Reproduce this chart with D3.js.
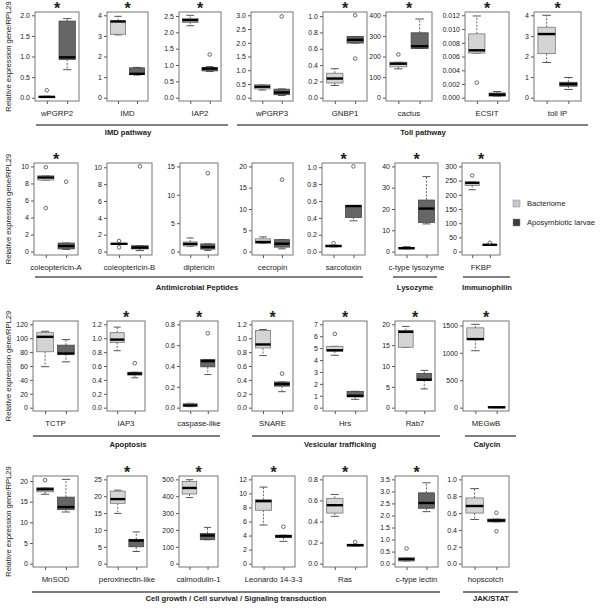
<!DOCTYPE html>
<html>
<head>
<meta charset="utf-8">
<script src="https://cdn.jsdelivr.net/npm/d3@7"></script>
<style>
  body { margin: 0; background: #fff; }
  svg { font-family: "Liberation Sans", Arial, sans-serif; }
</style>
</head>
<body>
<div id="chart"></div>
<script>
// genes, one panel each
const genes = ["wPGRP2", "IMD", "IAP2", "wPGRP3", "GNBP1", "cactus", "ECSIT", "toll IP",
  "coleoptericin-A", "coleoptericin-B", "diptericin", "cecropin", "sarcotoxin", "c-type lysozyme", "FKBP",
  "TCTP", "IAP3", "caspase-like", "SNARE", "Hrs", "Rab7", "MEGwB",
  "MnSOD", "peroxinectin-like", "calmodulin-1", "Leonardo 14-3-3", "Ras", "c-type lectin", "hopscotch"];
const geneRow = [0, 0, 0, 0, 0, 0, 0, 0, 1, 1, 1, 1, 1, 1, 1, 2, 2, 2, 2, 2, 2, 2, 3, 3, 3, 3, 3, 3, 3];
const starred = [1, 1, 1, 0, 1, 1, 1, 1, 1, 0, 0, 0, 1, 1, 1, 0, 1, 1, 1, 1, 1, 1, 0, 1, 1, 1, 1, 1, 0];

const yTicks = [
  [0, 0.5, 1, 1.5, 2], [0, 1, 2, 3, 4], [0, 0.5, 1, 1.5, 2, 2.5], [0, 0.5, 1, 1.5, 2, 2.5, 3],
  [0, 0.2, 0.4, 0.6, 0.8, 1], [0, 100, 200, 300, 400], [0, 0.002, 0.004, 0.006, 0.008, 0.01, 0.012], [0, 1, 2, 3, 4],
  [0, 2, 4, 6, 8, 10], [0, 2, 4, 6, 8, 10], [0, 5, 10, 15], [0, 5, 10, 15, 20],
  [0, 0.2, 0.4, 0.6, 0.8, 1], [0, 10, 20, 30, 40], [0, 50, 100, 150, 200, 250, 300],
  [0, 20, 40, 60, 80, 100, 120], [0, 0.2, 0.4, 0.6, 0.8, 1, 1.2], [0, 0.2, 0.4, 0.6, 0.8], [0, 0.2, 0.4, 0.6, 0.8, 1, 1.2],
  [0, 1, 2, 3, 4, 5, 6, 7], [0, 5, 10, 15, 20], [0, 500, 1000, 1500],
  [0, 5, 10, 15, 20], [0, 5, 10, 15, 20, 25], [0, 100, 200, 300, 400, 500], [0, 2, 4, 6, 8, 10, 12],
  [0, 0.2, 0.4, 0.6, 0.8], [0, 0.5, 1, 1.5, 2, 2.5, 3, 3.5], [0, 0.2, 0.4, 0.6, 0.8, 1]
];
const tickFmt = [".1f", "d", ".1f", ".1f", ".1f", "d", ".3f", "d",
  "d", "d", "d", "d", ".1f", "d", "d",
  "d", ".1f", ".1f", ".1f", "d", "d", "d",
  "d", "d", "d", "d", ".1f", ".1f", ".1f"];

// [low whisker, q1, median, q3, high whisker]
const bacteriome = [
  [0.005, 0.01, 0.02, 0.03, 0.035], [3.05, 3.08, 3.7, 3.73, 3.95], [2.2, 2.3, 2.37, 2.42, 2.52], [0.28, 0.32, 0.4, 0.47, 0.47],
  [0.15, 0.18, 0.235, 0.3, 0.355], [140, 150, 165, 172, 172], [0.0065, 0.0065, 0.0069, 0.0093, 0.0119], [1.71, 2.14, 3.09, 3.42, 4.0],
  [8.4, 8.4, 8.7, 8.9, 8.9], [0.88, 0.88, 0.92, 0.95, 0.95], [0.95, 1.0, 1.35, 1.7, 2.4], [1.95, 2.0, 2.25, 3.0, 3.45],
  [0.056, 0.056, 0.067, 0.071, 0.075], [1.3, 1.3, 1.6, 1.9, 2.3], [218, 233, 242, 245, 245],
  [59, 80.5, 102, 108, 110], [0.82, 0.94, 0.98, 1.08, 1.16], [0.01, 0.013, 0.022, 0.039, 0.042], [0.75, 0.86, 0.91, 1.11, 1.125],
  [4.4, 4.76, 4.82, 5.15, 5.15], [14.5, 14.5, 18.2, 18.5, 19.5], [1038, 1244, 1250, 1455, 1519],
  [16.8, 17.4, 18.0, 18.4, 18.4], [14.9, 17.9, 19.15, 21.5, 21.8], [392, 413, 449, 488, 498], [5.5, 7.6, 8.9, 9.1, 10.9],
  [0.449, 0.48, 0.555, 0.62, 0.657], [0.11, 0.11, 0.18, 0.25, 0.25], [0.524, 0.6, 0.684, 0.78, 0.89]
];
const bacteriomeOut = [
  [0.18], [], [], [], [], [210], [0.0022], [],
  [9.9, 5.1], [1.25, 0.5], [], [], [0.1], [], [268],
  [], [], [], [], [6.2], [], [],
  [20.2], [], [], [], [], [0.63], []
];
const aposymbiotic = [
  [0.68, 0.93, 0.98, 1.86, 1.92], [1.1, 1.12, 1.16, 1.45, 1.47], [0.8, 0.82, 0.89, 0.92, 0.95], [0.08, 0.11, 0.19, 0.31, 0.32],
  [0.67, 0.67, 0.71, 0.75, 0.75], [239, 239, 250, 315, 382], [0.00024, 0.00024, 0.00044, 0.00068, 0.0009], [0.4, 0.56, 0.66, 0.75, 0.98],
  [0.25, 0.32, 0.65, 1.0, 1.0], [0.12, 0.32, 0.48, 0.69, 0.69], [0.2, 0.43, 0.8, 1.35, 1.35], [0.65, 1.05, 1.85, 2.8, 2.8],
  [0.365, 0.405, 0.54, 0.545, 0.545], [13, 13.7, 20.2, 24.2, 35.2], [22, 22, 24, 25, 25],
  [66, 77, 78, 90, 98], [0.43, 0.47, 0.49, 0.51, 0.51], [0.318, 0.392, 0.447, 0.463, 0.463], [0.23, 0.31, 0.34, 0.37, 0.37],
  [0.7, 0.9, 1.0, 1.37, 1.37], [4.5, 6.6, 6.7, 8.2, 8.95], [0, 2, 6, 18, 20],
  [12.5, 13.1, 13.7, 16.1, 20.4], [3.6, 5.0, 6.85, 7.2, 9.4], [142, 142, 167, 179, 215], [3.17, 3.7, 3.9, 4.05, 4.05],
  [0.167, 0.167, 0.176, 0.18, 0.18], [2.16, 2.3, 2.52, 2.94, 3.36], [0.496, 0.496, 0.512, 0.528, 0.528]
];
const aposymbioticOut = [
  [], [], [1.32], [2.96], [1.01, 0.48], [], [], [],
  [8.2], [10.1], [13.8], [16.9], [1.01], [], [31],
  [], [0.64], [0.714], [0.49], [], [], [],
  [], [], [], [5.25], [0.205], [], [0.604, 0.384]
];

const groupNames = ["IMD pathway", "Toll pathway", "Antimicrobial Peptides", "Lysozyme", "Immunophilin",
  "Apoptosis", "Vesicular trafficking", "Calycin", "Cell growth / Cell survival / Signaling transduction", "JAK/STAT"];
const groupRow = [0, 0, 1, 1, 1, 2, 2, 2, 3, 3];
const legendLabels = ["Bacteriome", "Aposymbiotic larvae"];

// layout
const width = 600, height = 609;
const rowTop = [12, 163, 321, 476];
const rowBottom = [101, 255, 411, 567];
const panelLeft = [35, 107, 179, 251, 323, 386, 465, 534,
  34, 107, 180, 252, 322, 395, 462,
  33, 107, 180, 252, 323, 395, 463,
  33, 107, 179, 252, 323, 395, 462];
const panelWidth = [44, 41, 42, 42, 44, 46, 44, 47,
  44, 45, 38, 41, 43, 43, 38,
  45, 38, 38, 41, 44, 40, 46,
  45, 40, 39, 43, 44, 43, 47];
const groupX1 = [36, 237, 35, 393, 463, 33, 252, 465, 32, 463];
const groupX2 = [228, 588, 363, 437, 510, 220, 440, 516, 440, 518];
const groupTextX = [128, 423, 197, 415, 487, 128, 340, 487, 236, 491];
const groupLineY = [125, 277, 436, 592];
const groupTextY = [135, 290, 447, 601];

const fills = ["#d4d4d4", "#666666"];
const legendFills = ["#c8c8c8", "#3d3d3d"];
const textColor = "#222";

const svg = d3.select("#chart").append("svg")
  .attr("width", width).attr("height", height);

function drawPanel(i) {
  const r = geneRow[i];
  const top = rowTop[r], bottom = rowBottom[r];
  const left = panelLeft[i], right = left + panelWidth[i];
  const groups = [
    { stats: bacteriome[i], out: bacteriomeOut[i], pos: 1, fill: fills[0], stroke: "#777" },
    { stats: aposymbiotic[i], out: aposymbioticOut[i], pos: 2, fill: fills[1], stroke: "#444" }
  ];
  const allVals = groups.flatMap(g => g.stats.concat(g.out));
  const hi = Math.max(d3.max(yTicks[i]), d3.max(allVals));
  const lo = Math.min(0, d3.min(allVals));
  const pad = (hi - lo) * 0.04;

  const y = d3.scaleLinear().domain([lo - pad, hi + pad]).range([bottom, top]);
  const x = d3.scaleLinear().domain([0.42, 2.58]).range([left, right]);
  const bw = (x(1.4) - x(0.6));

  const g = svg.append("g").attr("class", "panel");

  // axes
  const yAxis = g.append("g")
    .attr("transform", `translate(${left},0)`)
    .call(d3.axisLeft(y).tickValues(yTicks[i]).tickFormat(d3.format(tickFmt[i])).tickSize(3).tickPadding(2));
  const xAxis = g.append("g")
    .attr("transform", `translate(0,${bottom})`)
    .call(d3.axisBottom(x).tickValues([1, 2]).tickFormat("").tickSize(3));
  [yAxis, xAxis].forEach(a => {
    a.select(".domain").remove();
    a.selectAll("line").attr("stroke", "#555");
    a.selectAll("text").attr("fill", textColor).style("font-size", "7px");
  });

  // boxes
  groups.forEach(gr => {
    const [w0, q1, med, q3, w1] = gr.stats;
    const cx = x(gr.pos);
    const bx = g.append("g");
    bx.append("line").attr("x1", cx).attr("x2", cx).attr("y1", y(q3)).attr("y2", y(w1))
      .attr("stroke", "#666").attr("stroke-dasharray", "2,1.5");
    bx.append("line").attr("x1", cx).attr("x2", cx).attr("y1", y(q1)).attr("y2", y(w0))
      .attr("stroke", "#666").attr("stroke-dasharray", "2,1.5");
    [w0, w1].forEach(v => {
      bx.append("line").attr("x1", cx - bw / 4).attr("x2", cx + bw / 4)
        .attr("y1", y(v)).attr("y2", y(v)).attr("stroke", "#555");
    });
    bx.append("rect")
      .attr("x", cx - bw / 2).attr("width", bw)
      .attr("y", y(q3)).attr("height", Math.max(0.5, y(q1) - y(q3)))
      .attr("fill", gr.fill).attr("stroke", gr.stroke).attr("stroke-width", 0.8);
    bx.append("line").attr("x1", cx - bw / 2).attr("x2", cx + bw / 2)
      .attr("y1", y(med)).attr("y2", y(med)).attr("stroke", "#000").attr("stroke-width", 2.4);
    bx.selectAll("circle").data(gr.out).join("circle")
      .attr("cx", cx).attr("cy", d => y(d)).attr("r", 1.8)
      .attr("fill", "none").attr("stroke", "#444").attr("stroke-width", 0.8);
  });

  // frame
  g.append("rect").attr("x", left).attr("y", top)
    .attr("width", right - left).attr("height", bottom - top)
    .attr("fill", "none").attr("stroke", "#777").attr("stroke-width", 1);

  // gene label
  g.append("text").attr("x", (left + right) / 2).attr("y", bottom + 14.5)
    .attr("text-anchor", "middle").attr("fill", textColor)
    .style("font-size", "7.8px").text(genes[i]);

  if (starred[i]) {
    g.append("text").attr("x", (left + right) / 2).attr("y", top + 2)
      .attr("text-anchor", "middle").attr("fill", textColor)
      .style("font-size", "16px").style("font-weight", "bold").text("*");
  }
}

genes.forEach((d, i) => drawPanel(i));

// y titles
rowTop.forEach((t, r) => {
  const cy = (t + rowBottom[r]) / 2;
  svg.append("text")
    .attr("transform", `translate(11,${cy}) rotate(-90)`)
    .attr("text-anchor", "middle").attr("fill", textColor)
    .style("font-size", "7.6px")
    .text("Relative expression gene/RPL29");
});

// group brackets
groupNames.forEach((name, k) => {
  const r = groupRow[k];
  svg.append("line")
    .attr("x1", groupX1[k]).attr("x2", groupX2[k])
    .attr("y1", groupLineY[r]).attr("y2", groupLineY[r])
    .attr("stroke", "#555").attr("stroke-width", 1.3);
  svg.append("text")
    .attr("x", groupTextX[k]).attr("y", groupTextY[r])
    .attr("text-anchor", "middle").attr("fill", textColor)
    .style("font-size", "7.6px").style("font-weight", "bold")
    .text(name);
});

// legend
const legend = svg.append("g").attr("transform", "translate(513,200)");
legendLabels.forEach((lab, k) => {
  legend.append("rect").attr("x", 0).attr("y", k * 19).attr("width", 7).attr("height", 7)
    .attr("fill", legendFills[k]).attr("stroke", "#888").attr("stroke-width", 0.5);
  legend.append("text").attr("x", 14).attr("y", k * 19 + 6.2)
    .attr("fill", textColor).style("font-size", "7.6px").text(lab);
});
</script>
</body>
</html>
